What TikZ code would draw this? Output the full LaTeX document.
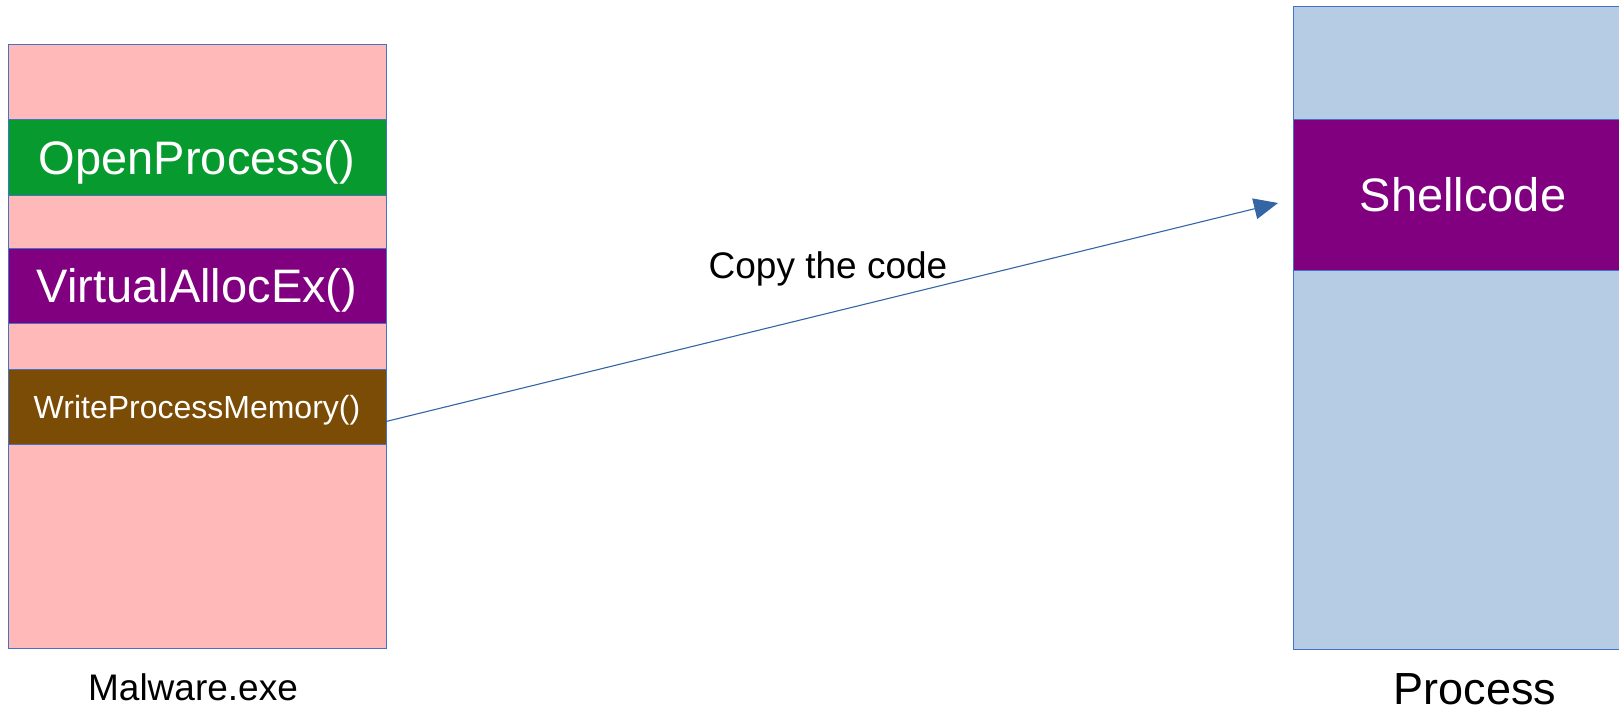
\documentclass[tikz,border=0pt]{standalone}
\usepackage{fontspec}
\setmainfont{Liberation Sans}
\usetikzlibrary{arrows.meta,calc}
\definecolor{pinkbg}{HTML}{FFB9B9}
\definecolor{bluebg}{HTML}{B5CCE4}
\definecolor{greenband}{HTML}{079A2E}
\definecolor{purpleband}{HTML}{800080}
\definecolor{brownband}{HTML}{7A4C05}
\definecolor{edgeblue}{HTML}{4472C4}
\definecolor{arrowblue}{HTML}{3465A4}
\begin{document}
\begin{tikzpicture}[x=1pt,y=-1pt,
  panel/.style={draw=edgeblue,line width=0.9pt,inner sep=0pt,outer sep=0pt,rectangle},
  band/.style={draw=edgeblue,line width=0.9pt,inner sep=0pt,outer sep=0pt,rectangle,text=white,text depth=0pt,font=\fontsize{47}{56}\selectfont},
  caption/.style={inner sep=0pt,text=black,text depth=0pt},
  flow/.style={draw=arrowblue,line width=1.1pt,-{Triangle[length=24pt,width=21pt]}}]
\useasboundingbox (0,0) rectangle (1619,710);
\clip (0,0) rectangle (1619,710);
% left panel
\node[panel,fill=pinkbg,minimum width=378pt,minimum height=604pt] (mal) at (197,346) {};
\node[band,fill=greenband,minimum width=378pt,minimum height=76pt] (open) at (197,157) {OpenProcess()};
\node[band,fill=purpleband,minimum width=378pt,minimum height=75pt] (valloc) at (197,285.5) {VirtualAllocEx()};
\node[band,fill=brownband,minimum width=378pt,minimum height=75pt,font=\fontsize{32}{38}\selectfont] (write) at (197,406.5) {WriteProcessMemory()};
% right panel
\node[panel,fill=bluebg,minimum width=347pt,minimum height=643pt] (proc) at (1466.5,327.5) {};
\node[band,fill=purpleband,minimum width=347pt,minimum height=151pt,text width=341pt,align=center] (shell) at (1466.5,194.5) {\hspace*{-7pt}Shellcode};
% captions
\node[caption,font=\fontsize{37}{44}\selectfont,anchor=base] (malcap) at (193,700) {Malware.exe};
\node[caption,font=\fontsize{45}{54}\selectfont,anchor=base] (proccap) at (1475,704) {Process};
\node[caption,font=\fontsize{37}{44}\selectfont] (copylbl) at (828,265) {Copy the code};
% arrow
\coordinate (start) at ($(write.east)+(0,15)$);
\coordinate (tip) at (1278,203);
\draw[flow] (start) -- (tip);
\end{tikzpicture}
\end{document}
